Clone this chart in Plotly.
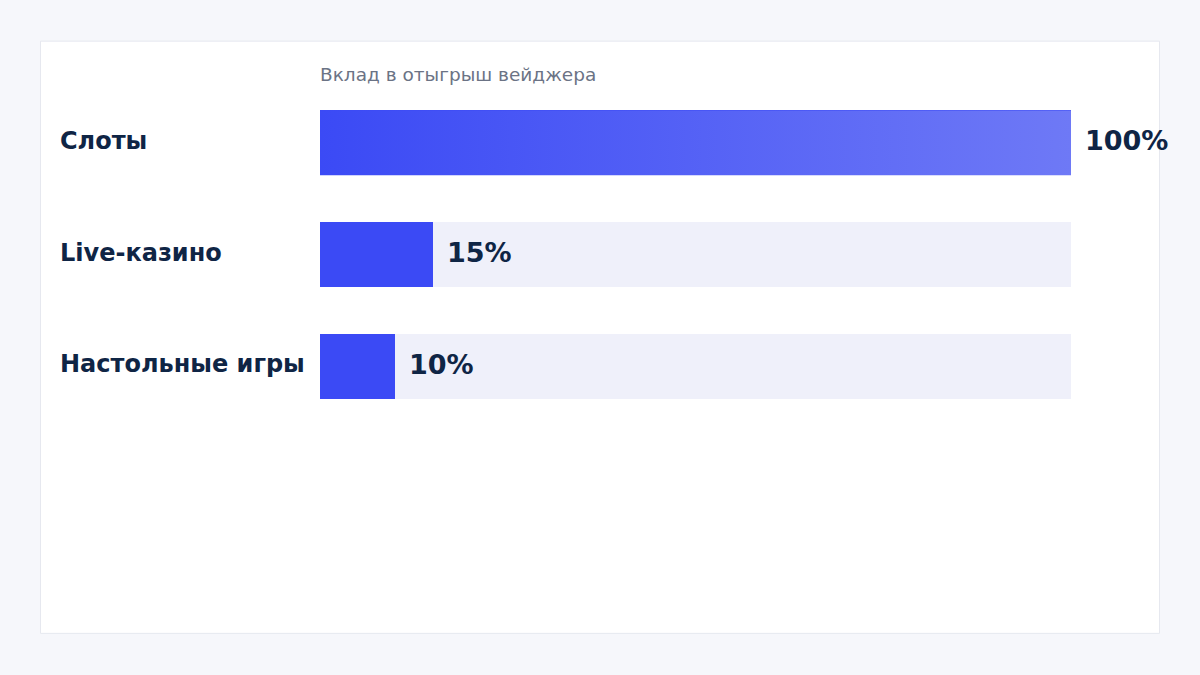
import plotly.graph_objects as go

categories = ["Слоты", "Live-казино", "Настольные игры"]
values = [100, 15, 10]
value_labels = ["100%", "15%", "10%"]
title_text = "Вклад в отыгрыш вейджера"

W, H = 1200, 675
L, R, T, B = 320, 129, 86.5, 252.5
pw, ph = W - L - R, H - T - B
half = 0.29

fig = go.Figure()

# light tracks behind every bar
fig.add_trace(go.Bar(
    x=[100] * len(categories), y=list(range(len(categories))), orientation="h",
    width=half * 2, marker=dict(color="#eff0fa", line=dict(width=0)),
    hoverinfo="skip", showlegend=False))

# solid bars
fig.add_trace(go.Bar(
    x=values, y=list(range(len(categories))), orientation="h",
    width=half * 2, marker=dict(color="#3b4af5", line=dict(width=0)),
    hovertemplate="%{x}%<extra></extra>", showlegend=False))

# gradient over the top bar
top = values.index(max(values))
v = values[top]
fig.add_trace(go.Scatter(
    x=[0, v, v, 0, 0], y=[top - half, top - half, top + half, top + half, top - half],
    mode="lines", line=dict(width=0), fill="toself",
    fillgradient=dict(type="horizontal", colorscale=[[0, "#3b4af5"], [1, "#6e79f6"]]),
    hoverinfo="skip", showlegend=False))

for i, (cat, val, lab) in enumerate(zip(categories, values, value_labels)):
    fig.add_annotation(x=(60 - L) / pw, xref="paper", y=i, yref="y", text=f"<b>{cat}</b>",
                       showarrow=False, xanchor="left", yanchor="middle", xshift=-2, yshift=2,
                       font=dict(family="DejaVu Sans", size=24, color="#0f2545"))
    fig.add_annotation(x=val, xref="x", y=i, yref="y", text=f"<b>{lab}</b>",
                       showarrow=False, xanchor="left", yanchor="middle", xshift=12, yshift=2,
                       font=dict(family="DejaVu Sans", size=27, color="#0f2545"))

fig.add_annotation(x=0, xref="paper", y=1 + (T - 74) / ph, yref="paper", text=title_text,
                   showarrow=False, xanchor="left", yanchor="middle", xshift=-2,
                   font=dict(family="DejaVu Sans", size=18.5, color="#6b7385"))

# white card
fig.add_shape(type="rect", xref="paper", yref="paper", layer="below",
              x0=(40.5 - L) / pw, x1=(1159.5 - L) / pw,
              y0=(H - B - 634.5) / ph, y1=1 + (T - 40.5) / ph,
              fillcolor="white", line=dict(color="#e6e8ef", width=1))

fig.update_layout(
    width=W, height=H, barmode="overlay", bargap=0,
    margin=dict(l=L, r=R, t=T, b=B),
    paper_bgcolor="#f6f7fb", plot_bgcolor="rgba(0,0,0,0)",
    xaxis=dict(range=[0, 100], visible=False, fixedrange=True),
    yaxis=dict(range=[2.5, -0.5], visible=False, fixedrange=True),
    font=dict(family="DejaVu Sans"),
)

fig.write_html("out.html", config={"displayModeBar": False},
               post_script="document.body.style.margin='0';document.body.style.background='#f6f7fb';")
